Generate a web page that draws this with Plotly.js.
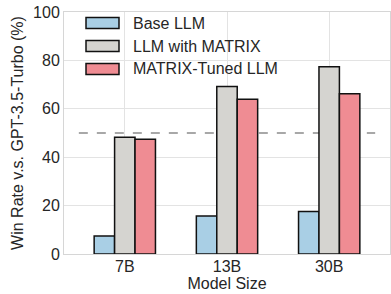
<!DOCTYPE html>
<html>
<head>
<meta charset="utf-8">
<script src="https://cdn.plot.ly/plotly-3.0.1.min.js"></script>
<style>html,body{margin:0;padding:0;background:#fff;}#chart{width:391px;height:294px;}</style>
</head>
<body>
<div id="chart"></div>
<script>
const categories = ["7B", "13B", "30B"];
const seriesNames = ["Base LLM", "LLM with MATRIX", "MATRIX-Tuned LLM"];
const baseLLM = [7.4, 15.7, 17.6];
const llmWithMatrix = [48.2, 69.2, 77.4];
const matrixTuned = [47.4, 63.9, 66.2];
const referenceLine = 50;
const yTicks = [0, 20, 40, 60, 80, 100];

const colors = ["#a9cfe5", "#d5d4d0", "#ef8c93"];
const values = [baseLLM, llmWithMatrix, matrixTuned];
const textColor = "#262626";
const font = {family: "Liberation Sans, Arial, sans-serif", size: 16, color: textColor};

const traces = values.map((v, i) => ({
  type: "bar",
  x: categories,
  y: v,
  name: seriesNames[i],
  marker: {color: colors[i], line: {color: "#111", width: 1.5}},
  showlegend: false
}));

// custom legend (wide swatches like the reference)
const shapes = [];
const annotations = [];
const legX0 = 0.0675, legX1 = 0.1687, legTextX = 0.2117;
const legYc = [0.9545, 0.8595, 0.7645];
const halfH = 0.0227;
seriesNames.forEach((n, i) => {
  shapes.push({type: "rect", xref: "paper", yref: "paper",
    x0: legX0, x1: legX1, y0: legYc[i] - halfH, y1: legYc[i] + halfH,
    fillcolor: colors[i], line: {color: "#111", width: 1.5}});
  annotations.push({xref: "paper", yref: "paper", x: legTextX - 0.006, y: legYc[i],
    xanchor: "left", yanchor: "middle", text: n, showarrow: false,
    font: font});
});
shapes.push({type: "line", xref: "x", yref: "y", x0: -0.45, x1: 2.45,
  y0: referenceLine, y1: referenceLine, layer: "below",
  line: {color: "#8c8c8c", width: 1.3, dash: "dash"}});

const layout = {
  width: 391, height: 294,
  margin: {l: 64, r: 1, t: 12, b: 40},
  paper_bgcolor: "#fff", plot_bgcolor: "#fff",
  font: font,
  barmode: "group", bargap: 0.4, bargroupgap: 0,
  showlegend: false,
  xaxis: {
    type: "category", range: [-0.595, 2.595],
    showgrid: true, gridcolor: "#e3e3e3", gridwidth: 1,
    showline: true, linecolor: "#d6d6d6", linewidth: 1, mirror: true,
    ticks: "", tickfont: font, ticklabelstandoff: -2,
    title: {text: "Model Size", font: font, standoff: 2}
  },
  yaxis: {
    range: [0, 100], tickvals: yTicks, ticktext: yTicks.map(String),
    showgrid: true, gridcolor: "#e3e3e3", gridwidth: 1,
    showline: true, linecolor: "#d6d6d6", linewidth: 1, mirror: true,
    zeroline: false, ticks: "", tickfont: font,
    title: {text: "Win Rate v.s. GPT-3.5-Turbo (%)", font: {family: font.family, size: 16, color: textColor}, standoff: 5}
  },
  shapes: shapes,
  annotations: annotations
};

Plotly.newPlot("chart", traces, layout, {displayModeBar: false, staticPlot: true});
</script>
</body>
</html>
